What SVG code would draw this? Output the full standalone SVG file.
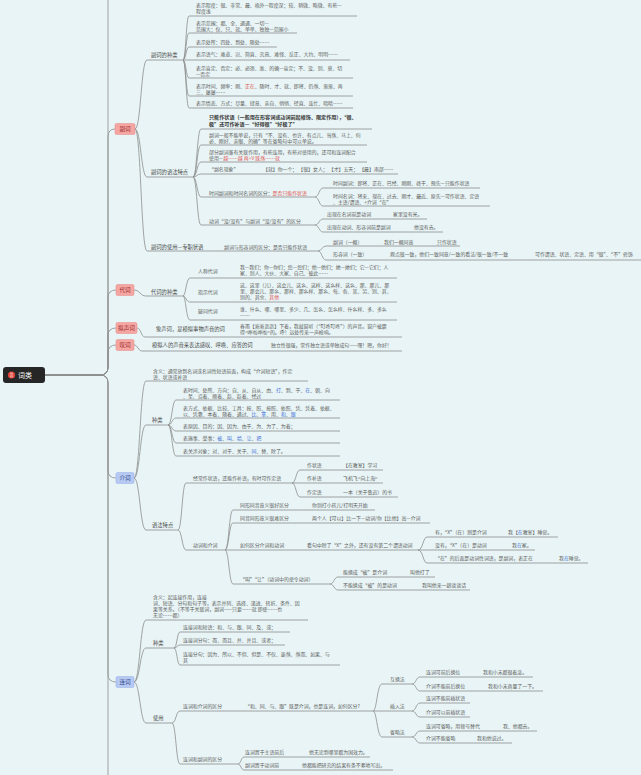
<svg xmlns="http://www.w3.org/2000/svg" width="641" height="775" viewBox="0 0 641 775">
<style>
text{font-family:"Noto Sans CJK SC","Noto Sans",sans-serif;font-size:4.9px;fill:#5c5c5c}
.l2{font-size:5.3px;fill:#4a4a4a}
.b{font-weight:bold;fill:#333;font-size:5.1px}
.r{fill:#e0524f}
.bl{fill:#3d6fd8}
.nt{font-size:5.6px;text-anchor:middle}
.rn{fill:#f5a6a3;stroke:#e58a86;stroke-width:0.5}
.bn{fill:#b7c9f3;stroke:#93aee8;stroke-width:0.5}
.rt{fill:#9b2c2c}
.bt{fill:#2f4a8a}
.c{fill:none;stroke:#8e8e8e;stroke-width:0.8}
</style>
<rect width="641" height="775" fill="#e8f4f5"/>
<g id="connectors">
<path class="c" d="M45,375 H100 Q108,375 108,367 V-5"/>
<path class="c" d="M45,375 H100 Q108,375 108,383 V780"/>
<path class="c" d="M45,375 H100 Q108,375 108,367 V137 Q108,129 115,129"/>
<path class="c" d="M45,375 H100 Q108,375 108,367 V298 Q108,290 116,290"/>
<path class="c" d="M45,375 H100 Q108,375 108,367 V336 Q108,328 116,328"/>
<path class="c" d="M45,375 H100 Q108,375 108,367 V353 Q108,345 116,345"/>
<path class="c" d="M45,375 H100 Q108,375 108,383 V470 Q108,478 116,478"/>
<path class="c" d="M45,375 H100 Q108,375 108,383 V674 Q108,682 116,682"/>
<path class="c" d="M135,129 C141,129 141,60 147,60 H183"/>
<path class="c" d="M135,129 C141,129 141,177 147,177 H193"/>
<path class="c" d="M135,129 C141,129 141,251 147,251 H318"/>
<path class="c" d="M183,60 C186,60 186,16 189,16 H357"/>
<path class="c" d="M183,60 C186,60 186,33 189,33 H297"/>
<path class="c" d="M183,60 C186,60 186,47 189,47 H277"/>
<path class="c" d="M183,60 H350"/>
<path class="c" d="M183,60 C186,60 186,78 189,78 H353"/>
<path class="c" d="M183,60 C186,60 186,96 189,96 H353"/>
<path class="c" d="M183,60 C186,60 186,108 189,108 H353"/>
<path class="c" d="M193,177 C197,177 197,129 201,129 H372"/>
<path class="c" d="M193,177 C197,177 197,145 201,145 H367"/>
<path class="c" d="M193,177 C197,177 197,162 201,162 H367"/>
<path class="c" d="M193,177 C197,177 197,174 201,174 H398"/>
<path class="c" d="M193,177 C197,177 197,197 201,197 H315"/>
<path class="c" d="M193,177 C197,177 197,225 201,225 H315"/>
<path class="c" d="M315,197 C319,197 319,188 323,188 H480"/>
<path class="c" d="M315,197 C319,197 319,206 323,206 H490"/>
<path class="c" d="M315,225 C319,225 319,219 323,219 H427"/>
<path class="c" d="M315,225 C319,225 319,232 323,232 H443"/>
<path class="c" d="M318,251 C322,251 322,246 326,246 H460"/>
<path class="c" d="M318,251 C322,251 322,260 326,260 H641"/>
<path class="c" d="M134,290 C140,290 140,296 146,296 H183"/>
<path class="c" d="M183,296 C186,296 186,278 190,278 H397"/>
<path class="c" d="M183,296 C186,296 186,302 190,302 H397"/>
<path class="c" d="M183,296 C186,296 186,320 190,320 H397"/>
<path class="c" d="M137,328 C141,328 141,337 145,337 H402"/>
<path class="c" d="M134,345 C138,345 138,351 142,351 H402"/>
<path class="c" d="M134,478 C140,478 140,381 146,381 H308"/>
<path class="c" d="M134,478 C140,478 140,425 146,425 H168"/>
<path class="c" d="M134,478 C140,478 140,530 146,530 H178"/>
<path class="c" d="M168,425 C172,425 172,400 176,400 H340"/>
<path class="c" d="M168,425 C172,425 172,418 176,418 H340"/>
<path class="c" d="M168,425 C172,425 172,431 176,431 H340"/>
<path class="c" d="M168,425 C172,425 172,443 176,443 H340"/>
<path class="c" d="M168,425 C172,425 172,456 176,456 H340"/>
<path class="c" d="M178,530 C182,530 182,483 186,483 H292"/>
<path class="c" d="M178,530 C182,530 182,550 186,550 H225"/>
<path class="c" d="M292,483 C296,483 296,470 300,470 H383"/>
<path class="c" d="M292,483 H383"/>
<path class="c" d="M292,483 C296,483 296,497 300,497 H398"/>
<path class="c" d="M225,550 C229,550 229,510 233,510 H375"/>
<path class="c" d="M225,550 C229,550 229,523 233,523 H430"/>
<path class="c" d="M225,550 H418"/>
<path class="c" d="M225,550 C229,550 229,584 233,584 H330"/>
<path class="c" d="M418,550 C423,550 423,537 427,537 H558"/>
<path class="c" d="M418,550 H535"/>
<path class="c" d="M418,550 C423,550 423,563 427,563 H588"/>
<path class="c" d="M330,584 C334,584 334,577 338,577 H435"/>
<path class="c" d="M330,584 C334,584 334,590 338,590 H470"/>
<path class="c" d="M134,682 C140,682 140,620 146,620 H308"/>
<path class="c" d="M134,682 C140,682 140,648 146,648 H174"/>
<path class="c" d="M134,682 C140,682 140,723 146,723 H172"/>
<path class="c" d="M174,648 C177,648 177,632 180,632 H290"/>
<path class="c" d="M174,648 C177,648 177,645 180,645 H285"/>
<path class="c" d="M174,648 C177,648 177,665 180,665 H340"/>
<path class="c" d="M172,723 C176,723 176,711 180,711 H373"/>
<path class="c" d="M172,723 C176,723 176,764 180,764 H238"/>
<path class="c" d="M373,711 C377,711 377,684 382,684 H412"/>
<path class="c" d="M373,711 H412"/>
<path class="c" d="M373,711 C377,711 377,737 382,737 H412"/>
<path class="c" d="M412,684 C416,684 416,677 420,677 H533"/>
<path class="c" d="M412,684 C416,684 416,691 420,691 H543"/>
<path class="c" d="M412,711 C416,711 416,703 420,703 H470"/>
<path class="c" d="M412,711 C416,711 416,717 420,717 H470"/>
<path class="c" d="M412,737 C416,737 416,731 420,731 H537"/>
<path class="c" d="M412,737 C416,737 416,743 420,743 H512"/>
<path class="c" d="M238,764 C241,764 241,757 244,757 H370"/>
<path class="c" d="M238,764 C241,764 241,770 244,770 H393"/>
</g>
<g id="root">
<rect x="3" y="367" width="42" height="16" rx="3" fill="#262626"/>
<circle cx="11.5" cy="375" r="3.6" fill="#e2453b"/>
<path d="M10,373.2 h3 M10,375 h3 M10,376.8 h3" stroke="#fff" stroke-width="0.6"/>
<text x="18" y="377.6" style="font-size:7px;fill:#fff">词类</text>
</g>
<g id="fuci">
<rect class="rn" x="115" y="123.5" width="20" height="11" rx="1.5"/>
<text class="nt rt" x="125" y="131">副词</text>
<text class="l2" x="151" y="57">副词的种类</text>
<text x="196" y="7">表示程度：很、非常、最、格外—程度深；较、稍微、略微、有些—</text>
<text x="196" y="13">程度浅</text>
<text x="196" y="25">表示范围：都、全、通通、一切—</text>
<text x="196" y="31">范围大；仅、只、就、单单、独独—范围小</text>
<text x="196" y="44">表示处所：四处、到处、随处……</text>
<text x="196" y="56">表示语气：难道、岂、简直、究竟、难怪、反正、大约、明明……</text>
<text x="196" y="70">表示肯定、否定：必、必须、准、的确—肯定；不、没、别、莫、切</text>
<text x="196" y="76">—否定</text>
<text x="196" y="88">表示时间、频率：刚、<tspan class="r">正在</tspan>、随时、才、就、即将、仍然、渐渐、再</text>
<text x="196" y="94">三、屡屡……</text>
<text x="196" y="105">表示情态、方式：尽量、肆意、亲自、悄悄、径直、连忙、暗暗……</text>
<text class="l2" x="151" y="174">副词的语法特点</text>
<text class="b" x="209" y="119">只能作状语（一般用在形容词或动词前起修饰、限定作用），“很、</text>
<text class="b" x="209" y="126">极”还可作补语—“好得很”“好极了”</text>
<text x="209" y="136.5">副词一般不能单说，只有“不、没有、也许、有点儿、当然、马上、何</text>
<text x="209" y="142.5">必、刚好、亲眼、的确”等在省略句中可以单说。</text>
<text x="209" y="153.5">部分副词兼有关联作用，有些连用，有些对使用的，还可和连词配合</text>
<text x="209" y="159.5">使用—<tspan class="r">越……越  再+V  既然……就</tspan></text>
<text x="209" y="171">“副名现象”</text>
<text x="263" y="171">【就】你一个；  【很】女人；  【才】五天；  【最】南部……</text>
<text x="209" y="195">时间副词和时间名词的区分：<tspan class="r">是否只能作状语</tspan></text>
<text x="333" y="185">时间副词：即将、正在、已经、刚刚、终于、预先—只能作状语</text>
<text x="333" y="197.5">时间名词：将来、现在、过去、刚才、最近、原先—可作状语、定语</text>
<text x="333" y="203.5">、主语/谓语、+介词“在”</text>
<text x="209" y="223">动词“没/没有”与副词“没/没有”的区分</text>
<text x="327" y="216">出现在名词前是动词</text>
<text x="393" y="216">家里没有米。</text>
<text x="327" y="229">出现在动词、形容词前是副词</text>
<text x="414" y="229">他没有去。</text>
<text class="l2" x="151" y="249">副词的使用—专职状语</text>
<text x="224" y="249">副词与形容词的区分：是否只能作状语</text>
<text x="333" y="244">副词（一概）</text>
<text x="384" y="244">我们一概同意</text>
<text x="437" y="244">只作状语</text>
<text x="333" y="256">形容词（一致）</text>
<text x="390" y="256">观点很一致，他们一致同意/一致的看法/很一致/不一致</text>
<text x="535" y="256">可作谓语、状语、定语、用“很”、“不”修饰</text>
</g>
<g id="daici">
<rect class="rn" x="116" y="284.5" width="18" height="11" rx="1.5"/>
<text class="nt rt" x="125" y="292">代词</text>
<text class="l2" x="151" y="294">代词的种类</text>
<text x="198" y="273">人称代词</text>
<text x="240" y="269">我—我们；你—你们；您—您们；他—他们；她—她们；它—它们；人</text>
<text x="240" y="275">家、别人、大伙、大家、自己、彼此……</text>
<text x="198" y="294">指示代词</text>
<text x="240" y="286.5">这、这里（儿）、这会儿、这么、这样、这么样、这么、那、那儿、那</text>
<text x="240" y="292.5">里、那会儿、那么、那样、那么样、那么、每、各、某、另、别、其、</text>
<text x="240" y="298.5">别的、其余、<tspan class="r">其他</tspan></text>
<text x="198" y="313">疑问代词</text>
<text x="240" y="311">谁、什么、哪、哪里、多少、几、怎么、怎么样、什么样、多、多么</text>
<text x="240" y="317">……</text>
</g>
<g id="nishengci">
<rect class="rn" x="116" y="322.5" width="21" height="11" rx="1.5"/>
<text class="nt rt" x="126.5" y="330">拟声词</text>
<text class="l2" x="156" y="331">象声词，是模拟事物声音的词</text>
<text x="240" y="328">春雨【淅淅沥沥】下着，我敲窗听（“叮咚叮咚”）的声音。窗户被震</text>
<text x="240" y="334">得&lt;哗啦哗啦&gt;的。呼！远处传来一声枪响。</text>
</g>
<g id="tanci">
<rect class="rn" x="116" y="339.5" width="18" height="11" rx="1.5"/>
<text class="nt rt" x="125" y="347">叹词</text>
<text class="l2" x="152" y="347">模拟人的声音来表达感叹、呼唤、应答的词</text>
<text x="271" y="347">独立性很强，常作独立语或单独成句——嘿！嗯，你好！</text>
</g>
<g id="jieci">
<rect class="bn" x="116" y="472.5" width="18" height="11" rx="1.5"/>
<text class="nt bt" x="125" y="480">介词</text>
<text x="153" y="373">含义：通常放到名词或名词性短语前面，构成“介词短语”，作定</text>
<text x="153" y="379">语、状语或补语</text>
<text class="l2" x="152" y="422">种类</text>
<text x="183" y="391.5">表时间、处所、方向：自、从、自从、由、<tspan class="bl">打</tspan>、到、于、<tspan class="bl">在</tspan>、朝、向</text>
<text x="183" y="397.5">、至、沿着、顺着、趁、趁着、经过</text>
<text x="183" y="409.5">表方式、依据、比较、工具：按、照、按照、依照、凭、凭着、依据、</text>
<text x="183" y="415.5">以、凭靠、本着、随着、通过、<tspan class="bl">比</tspan>、<tspan class="bl">拿</tspan>、用、<tspan class="bl">和</tspan>、<tspan class="bl">跟</tspan></text>
<text x="183" y="428">表原因、目的：因、因为、由于、为、为了、为着；</text>
<text x="183" y="440">表施事、受事：<tspan class="bl">被</tspan>、<tspan class="bl">叫</tspan>、<tspan class="bl">给</tspan>、<tspan class="bl">让</tspan>、<tspan class="bl">把</tspan></text>
<text x="183" y="453">表关涉对象：对、对于、关于、<tspan class="bl">同</tspan>、替、除了。</text>
<text class="l2" x="152" y="527">语法特点</text>
<text x="193" y="480">经常作状语，还能作补语，有时可作定语</text>
<text x="307" y="467">作状语</text>
<text x="343" y="467">【在教室】学习</text>
<text x="307" y="480">作补语</text>
<text x="343" y="480">飞机飞&lt;向上海&gt;</text>
<text x="307" y="494">作定语</text>
<text x="343" y="494">一本（关于鲁迅）的书</text>
<text x="193" y="547">动词和介词</text>
<text x="240" y="507">同形同音意义很好区分</text>
<text x="312" y="507">你别打小孩儿/打明天开始</text>
<text x="240" y="520">同音同形意义很难区分</text>
<text x="312" y="520">两个人【可以】比一下—动词/你【比他】高—介词</text>
<text x="240" y="547">如何区分介词和动词</text>
<text x="307" y="547">看句中除了“X”之外，还有没有第二个谓语动词</text>
<text x="435" y="534">有，“X”（在）则是介词</text>
<text x="508" y="534">我【<tspan class="bl">在</tspan>教室】睡觉。</text>
<text x="435" y="547">没有，“X”（在）是动词</text>
<text x="512" y="547">我<tspan class="bl">在</tspan>家。</text>
<text x="435" y="560">“在”的后面是动词性词语，是副词，表正在</text>
<text x="559" y="560">我<tspan class="bl">在</tspan>睡觉。</text>
<text x="240" y="581">“叫”“让”（动词中的使令动词）</text>
<text x="343" y="574">能换成“被”是介词</text>
<text x="410" y="574">叫他打了</text>
<text x="343" y="587">不能换成“被”的是动词</text>
<text x="422" y="587">我叫他来一趟谈谈话</text>
</g>
<g id="lianci">
<rect class="bn" x="116" y="676.5" width="18" height="11" rx="1.5"/>
<text class="nt bt" x="125" y="684">连词</text>
<text x="153" y="598.5">含义：起连接作用，连接</text>
<text x="153" y="604.5">词、短语、分句和句子等，表示并列、选择、递进、转折、条件、因</text>
<text x="153" y="610.5">果等关系。（不等于关联词，副词——只要……就  即使……也</text>
<text x="153" y="616.5">无论……都）</text>
<text class="l2" x="153" y="645">种类</text>
<text x="183" y="629">连接词和短语：和、与、跟、同、及、或；</text>
<text x="183" y="642">连接词分句：而、而且、并、并且、或者；</text>
<text x="183" y="656">连接分句：因为、所以、不但、但是、不仅、虽然、然而、如果、与</text>
<text x="183" y="662">其</text>
<text class="l2" x="153" y="720">使用</text>
<text x="183" y="708">连词和介词的区分</text>
<text x="245" y="708">“和、同、与、跟”既是介词，也是连词，如何区分?</text>
<text x="390" y="681">互换法</text>
<text x="426" y="674">连词可前后换位</text>
<text x="483" y="674">我和小宋都很着急。</text>
<text x="426" y="688">介词不能前后换位</text>
<text x="488" y="688">我和小宋商量了一下。</text>
<text x="390" y="708">插入法</text>
<text x="426" y="700">连词不能前插状语</text>
<text x="426" y="714">介词可以前插状语</text>
<text x="390" y="734">省略法</text>
<text x="426" y="728">连词可省略，用顿号替代</text>
<text x="503" y="728">我、他都去。</text>
<text x="426" y="740">介词不能省略</text>
<text x="477" y="740">我和他说过。</text>
<text x="183" y="761">连词和副词的区分</text>
<text x="245" y="754">连词置于主语前后</text>
<text x="309" y="754">他无论到哪里都为国效力。</text>
<text x="245" y="767">副词置于动词前</text>
<text x="302" y="767">他都能把研究的结果有条不紊地写出。</text>
</g>
</svg>
